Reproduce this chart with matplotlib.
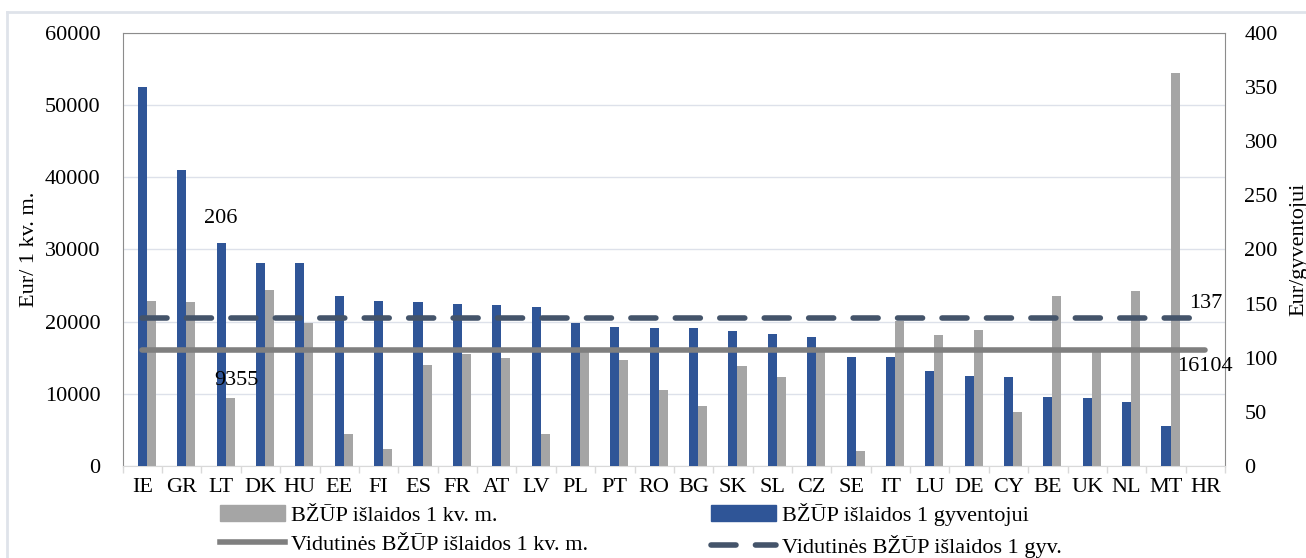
import matplotlib.pyplot as plt
import numpy as np
from matplotlib.lines import Line2D
from matplotlib.patches import Patch

plt.rcParams['font.family'] = ['Liberation Serif', 'DejaVu Serif']

# Data
countries = ['IE', 'GR', 'LT', 'DK', 'HU', 'EE', 'FI', 'ES', 'FR', 'AT', 'LV', 'PL', 'PT', 'RO',
             'BG', 'SK', 'SL', 'CZ', 'SE', 'IT', 'LU', 'DE', 'CY', 'BE', 'UK', 'NL', 'MT', 'HR']
per_sqm = [22900, 22700, 9355, 24400, 19800, 4450, 2400, 14000, 15500, 15000, 4450, 16000, 14700, 10500,
           8300, 13800, 12300, 16000, 2000, 20100, 18100, 18900, 7500, 23600, 16000, 24300, 54500, 0]
per_capita = [350, 273, 206, 187, 187, 157, 152, 151, 150, 149, 147, 132, 128, 127,
              127, 125, 122, 119, 101, 101, 88, 83, 82, 64, 63, 59, 37, 0]
avg_sqm = 16104
avg_capita = 137

lbl_sqm = 'BŽŪP išlaidos 1 kv. m.'
lbl_cap = 'BŽŪP išlaidos 1 gyventojui'
lbl_avg_sqm = 'Vidutinės BŽŪP išlaidos 1 kv. m.'
lbl_avg_cap = 'Vidutinės BŽŪP išlaidos 1 gyv.'

BLUE = '#2f5597'
GRAY = '#a5a5a5'
LINE_GRAY = '#7f7f7f'
DASH = '#44546a'
FS = 16

fig = plt.figure(figsize=(13.06, 5.58), dpi=100)
ax = fig.add_axes([0.094, 0.165, 0.844, 0.776])
ax2 = ax.twinx()

x = np.arange(len(countries))
w = 0.23

ax.bar(x + w, per_sqm, width=w, color=GRAY, zorder=2)
ax2.bar(x, per_capita, width=w, color=BLUE, zorder=2)

# average lines on top of both bar sets
ax2.plot([x[0], x[-1]], [avg_sqm, avg_sqm], color=LINE_GRAY, lw=4,
         transform=ax.transData, zorder=3, solid_capstyle='round')
ax2.plot([x[0], x[-1]], [avg_capita, avg_capita], color=DASH, lw=4,
         dashes=(4.5, 3.5), dash_capstyle='round', zorder=4)

# value labels
ax2.text(x[2], per_capita[2] + 14, str(per_capita[2]), ha='center', va='bottom', fontsize=FS, zorder=5)
ax2.text(x[2] + 0.4, per_sqm[2] + 1200, str(per_sqm[2]), ha='center', va='bottom', fontsize=FS,
         transform=ax.transData, zorder=5)
ax2.text(x[-1], avg_capita + 4, str(avg_capita), ha='center', va='bottom', fontsize=FS, zorder=5)
ax2.text(x[-1], avg_sqm - 1000, str(avg_sqm), ha='center', va='top', fontsize=FS,
         transform=ax.transData, zorder=5)

ax.set_xlim(-0.5, len(countries) - 0.5)
ax.set_ylim(0, 60000)
ax2.set_ylim(0, 400)
ax.set_yticks(np.arange(0, 60001, 10000))
ax2.set_yticks(np.arange(0, 401, 50))

ax.set_xticks(x)
ax.set_xticklabels(countries)
ax.set_xticks(np.arange(-0.5, len(countries), 1), minor=True)
ax.tick_params(axis='x', which='major', length=0, labelsize=FS, pad=9)
ax.tick_params(axis='x', which='minor', length=5, color='#d9d9d9', width=1)
ax.tick_params(axis='y', length=0, labelsize=FS, pad=16)
ax2.tick_params(axis='y', length=0, labelsize=FS, pad=14)

ax.grid(axis='y', color='#dde1ea', lw=1)
ax.set_axisbelow(True)

for s in ['left', 'top', 'right']:
    ax.spines[s].set_color('#8c8c8c')
ax.spines['bottom'].set_color('#d9d9d9')
for s in ax2.spines.values():
    s.set_visible(False)

ax.set_ylabel('Eur/ 1 kv. m.', fontsize=FS)
ax.yaxis.set_label_coords(-0.076, 0.5)
ax2.set_ylabel('Eur/gyventojui', fontsize=FS)
ax2.yaxis.set_label_coords(1.058, 0.5)

handles = [Patch(color=GRAY), Line2D([], [], color=LINE_GRAY, lw=4),
           Patch(color=BLUE), Line2D([], [], color=DASH, lw=4, dashes=(4.5, 3.5), dash_capstyle='round')]
labels = [lbl_sqm, lbl_avg_sqm, lbl_cap, lbl_avg_cap]
fig.legend(handles, labels, ncol=2, loc='center left', bbox_to_anchor=(0.1685, 0.05), frameon=False,
           fontsize=FS, handlelength=2.93, handletextpad=0.27, columnspacing=5.5, labelspacing=0.4,
           borderpad=0, borderaxespad=0)

# light chart border
fig.add_artist(Line2D([0.0054, 0.0054], [0, 0.978], color='#dfe3ea', lw=2, transform=fig.transFigure))
fig.add_artist(Line2D([0.0054, 1], [0.978, 0.978], color='#dfe3ea', lw=2, transform=fig.transFigure))

fig.savefig('out.png', dpi=100)
